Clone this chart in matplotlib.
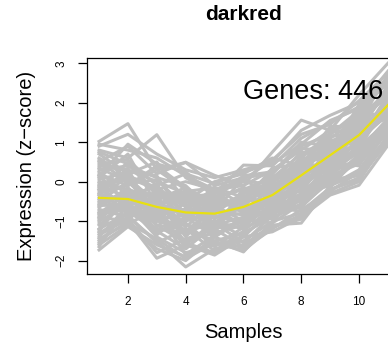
import matplotlib
matplotlib.use("Agg")
import matplotlib.pyplot as plt

plt.rcParams["font.family"] = ["Liberation Sans", "DejaVu Sans"]

# Module / sample info
module_name = "darkred"
n_genes = 446
samples = list(range(1, 12))

# Mean expression profile (yellow line)
mean_expr = [-0.41, -0.44, -0.64, -0.78, -0.81, -0.64, -0.34, 0.16, 0.67, 1.18, 1.94]

# Representative gene profiles (z-scores)
profiles = [
    [1.02, 1.47, 0.30, 0.49, -0.10, 0.10, 0.20, 0.90, 1.20, 1.70, 2.60],
    [0.80, 0.60, 1.19, 0.10, -0.30, 0.42, 0.40, 1.10, 1.50, 1.90, 2.80],
    [0.50, 0.90, 0.20, 0.49, 0.16, -0.10, 0.75, 1.56, 1.30, 2.20, 3.00],
    [0.90, 1.20, 0.70, 0.30, 0.10, 0.30, 0.50, 1.30, 1.68, 2.00, 2.50],
    [-1.73, -1.14, -1.60, -1.90, -1.50, -1.78, -1.00, -0.80, -0.20, 0.10, 1.00],
    [-1.50, -1.00, -1.94, -1.60, -1.86, -1.40, -1.27, -0.90, -0.34, -0.09, 0.92],
    [-1.30, -0.90, -1.50, -2.16, -1.70, -1.60, -1.10, -1.05, -0.10, 0.20, 1.10],
    [-1.60, -1.10, -1.70, -2.00, -1.40, -1.70, -1.20, -0.70, -0.30, 0.00, 1.20],
    [0.40, 0.30, 0.00, -0.30, -0.40, -0.20, 0.10, 0.70, 1.10, 1.60, 2.30],
    [-0.20, 0.50, -0.30, -0.60, -0.50, -0.50, -0.20, 0.40, 1.00, 1.40, 2.40],
    [0.20, -0.10, 0.30, -0.20, -0.70, -0.30, 0.00, 0.50, 0.80, 1.70, 2.10],
    [-0.60, -0.30, -0.50, -0.90, -0.90, -0.80, -0.50, 0.00, 0.50, 1.00, 1.80],
    [-0.80, -0.70, -1.00, -1.10, -1.20, -1.00, -0.70, -0.30, 0.30, 0.80, 1.60],
    [-1.00, -0.60, -1.20, -1.30, -1.00, -1.20, -0.80, -0.40, 0.20, 0.60, 1.50],
    [0.00, -0.20, -0.40, -0.50, -0.60, -0.40, -0.10, 0.30, 0.90, 1.30, 2.00],
    [-0.30, -0.50, -0.80, -0.70, -0.80, -0.70, -0.40, 0.10, 0.60, 1.20, 1.90],
    [0.60, 0.10, -0.20, 0.00, -0.20, -0.10, 0.30, 0.80, 1.30, 1.50, 2.20],
    [-1.20, -0.80, -0.90, -1.50, -1.30, -1.10, -0.60, -0.50, 0.10, 0.50, 1.40],
    [-0.10, -0.40, -0.10, -0.80, -1.10, -0.90, -0.30, 0.20, 0.40, 1.10, 1.70],
    [-0.50, 0.00, -0.70, -1.00, -0.40, -0.60, -0.60, -0.20, 0.70, 0.90, 2.10],
    [-0.90, -0.20, -1.10, -1.20, -1.50, -1.30, -0.90, -0.60, 0.00, 0.70, 1.30],
    [0.10, 0.70, -0.60, -0.40, -0.30, 0.00, -0.05, 0.60, 1.20, 1.80, 2.50],
    [-0.70, -0.90, -0.40, -1.40, -0.60, -0.50, -0.45, -0.10, 0.40, 1.30, 1.70],
    [-1.10, -0.50, -1.30, -0.90, -1.40, -0.90, -0.50, 0.00, 0.50, 0.40, 1.60],
    [0.30, 0.40, 0.10, -0.10, -0.80, -0.30, 0.20, 1.00, 0.90, 1.50, 2.70],
    [-0.40, -0.80, -0.30, -1.60, -1.00, -1.40, -0.70, -0.60, 0.30, 0.90, 1.50],
    [-0.90, -1.00, -0.20, -0.60, -1.20, -0.20, -0.90, 0.20, 0.10, 1.00, 1.90],
    [0.70, 0.20, 0.50, -0.50, 0.00, 0.20, 0.60, 0.40, 1.40, 1.40, 2.40],
    [-1.40, -0.60, -1.40, -1.80, -1.60, -1.50, -1.00, -0.30, -0.10, 0.30, 1.30],
    [-0.20, 0.20, -1.00, -0.20, -0.60, -1.00, -0.20, 0.50, 0.60, 1.60, 1.80],
    [-0.05, 0.10, -0.55, -0.35, -0.95, -0.45, 0.05, 0.35, 0.95, 1.05, 2.20],
    [-0.65, -0.15, -0.85, -1.25, -0.70, -0.85, -0.25, 0.05, 0.80, 1.25, 1.75],
    [0.55, -0.05, 0.05, -0.65, -0.45, -0.15, -0.35, 0.60, 0.55, 1.45, 2.35],
    [-1.25, -0.35, -0.60, -1.05, -1.65, -1.15, -0.55, -0.45, 0.25, 0.75, 1.45],
    [0.15, -0.55, -0.25, -0.95, -0.25, -0.75, -0.15, 0.15, 1.05, 1.10, 2.05],
    [-0.35, 0.35, -1.15, -0.45, -1.15, -0.25, -0.75, 0.25, 0.35, 1.55, 1.65],
    [-1.55, -0.75, -1.25, -1.70, -1.05, -1.55, -0.85, -0.15, -0.05, 0.55, 1.55],
    [0.35, 0.00, -0.45, -0.15, -0.55, -0.55, 0.35, 0.45, 1.15, 1.20, 2.45],
    [-0.85, -0.45, -0.05, -1.35, -0.85, -1.05, -0.40, -0.35, 0.45, 0.85, 2.00],
    [-0.15, -0.65, -0.95, -0.55, -1.25, -0.35, -0.60, 0.10, 0.75, 1.35, 1.60],
    [0.75, 0.45, -0.35, -0.25, -0.15, -0.60, 0.00, 0.75, 0.65, 1.65, 2.60],
    [-1.05, -1.05, -0.75, -1.85, -1.35, -0.95, -1.05, -0.55, 0.15, 0.45, 1.25],
    [-0.55, -0.25, -1.35, -0.75, -0.65, -1.20, -0.30, -0.25, 0.65, 0.95, 1.85],
    [0.05, 0.25, 0.15, -1.00, -0.75, 0.10, -0.50, 0.55, 0.85, 1.75, 2.15],
    [-0.75, -0.85, -1.55, -1.20, -1.75, -1.25, -0.65, -0.75, -0.15, 0.65, 1.35],
    [-0.45, 0.15, -0.15, -0.85, -0.35, -0.80, -0.10, 0.35, 0.50, 1.50, 2.25],
    [-1.35, -0.95, -1.80, -1.45, -1.20, -1.65, -1.15, -0.85, -0.25, 0.25, 1.15],
    [0.25, -0.35, -0.70, -0.45, -1.05, -0.45, -0.25, 0.65, 1.00, 0.95, 2.10],
    [-0.25, -0.10, 0.40, -0.15, -0.90, -0.65, 0.15, 0.00, 1.25, 1.35, 2.30],
    [-1.65, -0.55, -1.10, -1.55, -1.80, -1.35, -0.80, -0.65, 0.05, 0.15, 1.45],
    [0.45, 0.55, -0.10, 0.20, -0.05, 0.25, 0.45, 0.95, 1.55, 1.85, 2.65],
    [-0.95, -0.40, -0.50, -1.15, -0.50, -0.70, -0.70, -0.05, 0.35, 1.05, 1.70],
    [-0.60, -0.60, -0.90, -0.25, -1.40, -0.95, -0.35, 0.30, 0.20, 1.15, 1.95],
    [0.95, 0.80, 0.60, 0.15, -0.20, 0.05, 0.55, 1.20, 1.45, 2.05, 2.75],
    [-1.45, -1.05, -1.45, -1.95, -1.55, -1.75, -1.15, -0.95, -0.20, 0.05, 1.05],
    [-0.10, 0.05, -0.80, -0.70, -0.15, -0.40, 0.05, 0.20, 1.15, 1.25, 1.95],
    [0.15, 0.95, 0.45, 0.25, -0.40, 0.15, 0.25, 0.85, 0.75, 1.95, 2.55],
    [-0.80, -0.30, -0.60, -1.70, -1.10, -0.55, -0.95, -0.45, 0.60, 0.70, 1.55],
    [-0.30, -0.75, -0.35, -0.35, -0.70, -1.10, 0.10, 0.45, 0.70, 1.45, 2.35],
    [-1.20, -0.25, -1.00, -0.80, -1.30, -0.15, -0.45, -0.20, 0.15, 0.85, 1.20],
]

yticks = [-2, -1, 0, 1, 2, 3]
xticks = [2, 4, 6, 8, 10]

fig = plt.figure(figsize=(3.88, 3.46), dpi=100)
# axes runs slightly past the right edge, as in the cropped original
ax = fig.add_axes([0.2255, 0.208, 0.804, 0.624])

for prof in profiles:
    ax.plot(samples, prof, color="#BEBEBE", lw=2.2)
ax.plot(samples, mean_expr, color="#E8E010", lw=1.6)

ax.set_xlim(0.6, 11.4)
ax.set_ylim(-2.34, 3.13)
ax.set_xticks(xticks)
ax.set_yticks(yticks)
ax.tick_params(axis="both", length=6.5, width=0.9, labelsize=8.5, pad=9)
ax.tick_params(axis="y", labelrotation=90, pad=8)
for lab in ax.get_yticklabels():
    lab.set_va("center")
for sp in ax.spines.values():
    sp.set_linewidth(0.9)

ax.text(0.498, 0.843, f"Genes: {n_genes}", transform=ax.transAxes,
        fontsize=19.5, ha="left", va="center")

fig.text(244 / 388, 1 - 14 / 346, module_name, fontsize=15, fontweight="bold",
         ha="center", va="center")
fig.text(27 / 388, 1 - 166 / 346, "Expression (z\u2212score)", fontsize=14.5,
         rotation=90, ha="center", va="center")
fig.text(243 / 388, 1 - 333 / 346, "Samples", fontsize=14.5,
         ha="center", va="center")

fig.savefig("out.png", dpi=100)
